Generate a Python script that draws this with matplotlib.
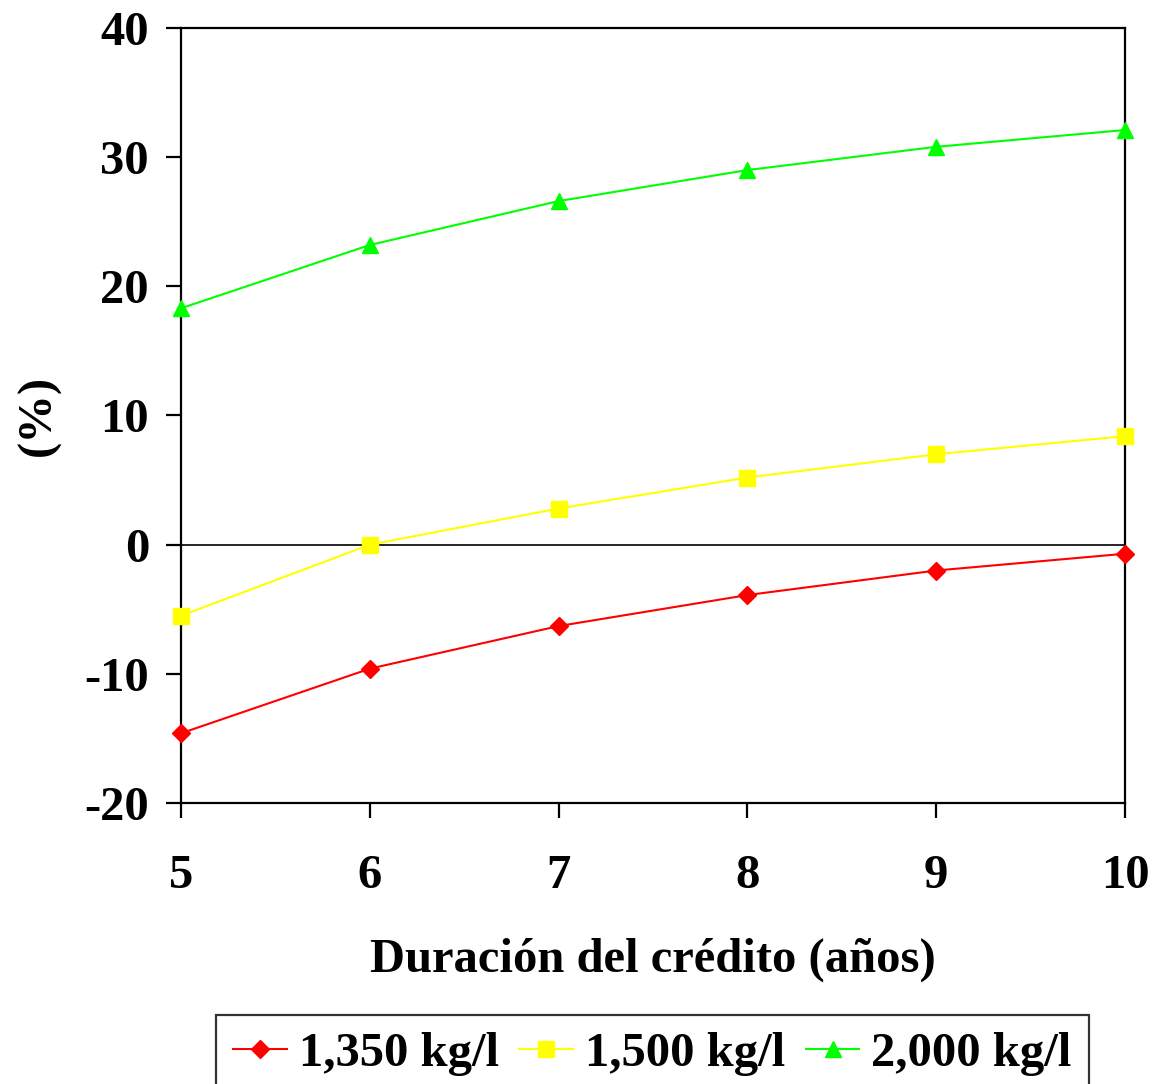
import matplotlib
matplotlib.use("Agg")
import matplotlib.pyplot as plt

# credit duration (years) and result (%) for each density
years = [5, 6, 7, 8, 9, 10]
serie_1350 = [-14.6, -9.6, -6.3, -3.9, -2.0, -0.7]
serie_1500 = [-5.5, 0.0, 2.8, 5.2, 7.0, 8.4]
serie_2000 = [18.3, 23.2, 26.6, 29.0, 30.8, 32.1]
labels = ["1,350 kg/l", "1,500 kg/l", "2,000 kg/l"]
yticks = [-20, -10, 0, 10, 20, 30, 40]

plt.rcParams["font.family"] = ["Liberation Serif", "DejaVu Serif"]
plt.rcParams["font.weight"] = "bold"
plt.rcParams["axes.unicode_minus"] = False

FS = 35

fig = plt.figure(figsize=(11.56, 10.84), dpi=100)
ax = fig.add_axes([0.1566, 0.2592, 0.8166, 0.715])

ax.plot(years, serie_1350, color="#ff0000", marker="D", markersize=9, lw=1.5,
        label=labels[0], clip_on=False, zorder=3)
ax.plot(years, serie_1500, color="#ffff00", marker="s", markersize=11, lw=1.5,
        label=labels[1], clip_on=False, zorder=3)
ax.plot(years, serie_2000, color="#00ff00", marker="^", markersize=11, lw=1.5,
        label=labels[2], clip_on=False, zorder=3)
ax.axhline(0, color="black", lw=1.2, zorder=1)

ax.set_xlim(5, 10)
ax.set_ylim(-20, 40)
ax.set_yticks(yticks)
ax.set_xticks(years)
for s in ax.spines.values():
    s.set_linewidth(1.6)
ax.tick_params(direction="out", length=11, width=1.6, labelsize=FS)
ax.tick_params(axis="y", pad=12)
ax.tick_params(axis="x", pad=26)
for lab in ax.get_xticklabels() + ax.get_yticklabels():
    lab.set_fontweight("bold")

ax.set_xlabel("Duración del crédito (años)", fontsize=FS, fontweight="bold", labelpad=28)
ax.set_ylabel("(%)", fontsize=FS, fontweight="bold", labelpad=17)

leg = fig.legend(loc="upper center", bbox_to_anchor=(0.5645, 0.0637), ncol=3,
                 frameon=True, fancybox=False, handlelength=1.1,
                 handletextpad=0.25, columnspacing=0.42, borderpad=0.35,
                 borderaxespad=0.0, prop={"size": FS, "weight": "bold"})
leg.get_frame().set_edgecolor("black")
leg.get_frame().set_linewidth(1.6)

fig.savefig("out.png", dpi=100)
